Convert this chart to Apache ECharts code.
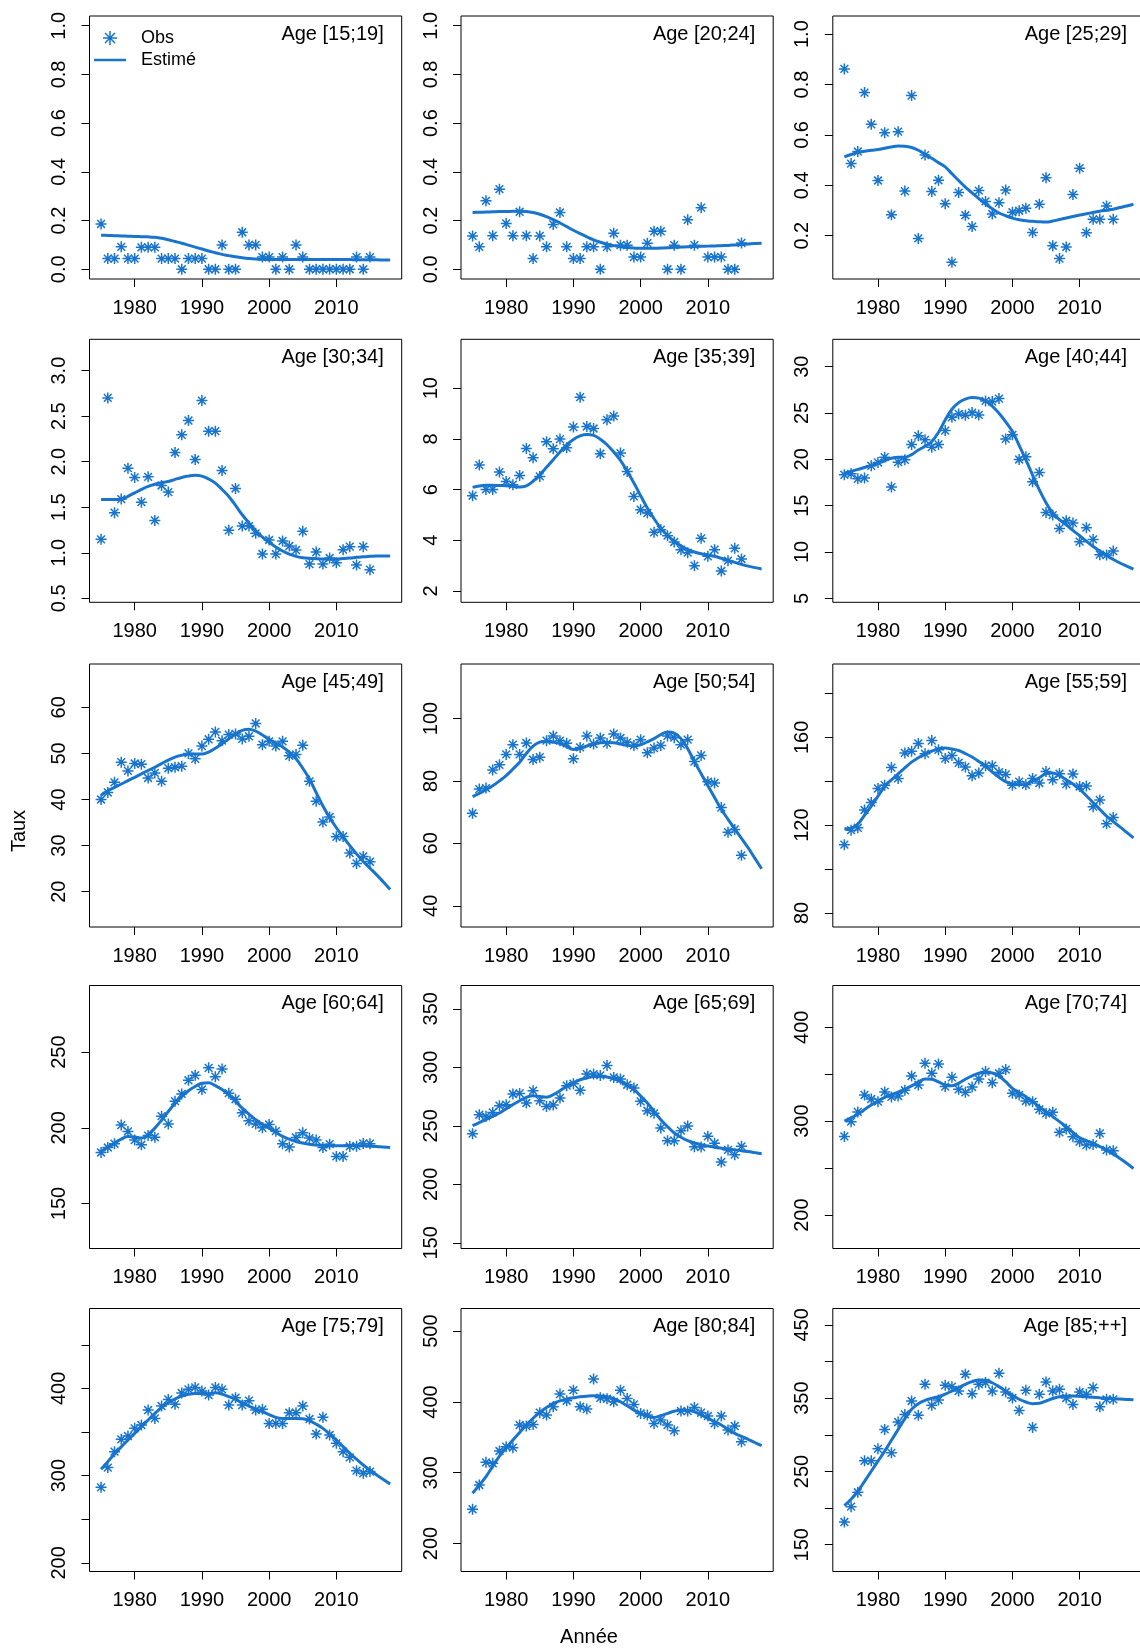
<!DOCTYPE html>
<html>
<head>
<meta charset="utf-8">
<script src="https://cdn.jsdelivr.net/npm/echarts@6/dist/echarts.min.js"></script>
<style>
html,body{margin:0;padding:0;background:#fff;}
#chart{width:1140px;height:1649px;}
</style>
</head>
<body>
<div id="chart"></div>
<script>
// ---------------- DATA ----------------
const ageLabels = ["Age [15;19]","Age [20;24]","Age [25;29]","Age [30;34]","Age [35;39]","Age [40;44]",
  "Age [45;49]","Age [50;54]","Age [55;59]","Age [60;64]","Age [65;69]","Age [70;74]",
  "Age [75;79]","Age [80;84]","Age [85;++]"];

const obsYears = [1975,1976,1977,1978,1979,1980,1981,1982,1983,1984,1985,1986,1987,1988,1989,1990,
  1991,1992,1993,1994,1995,1996,1997,1998,1999,2000,2001,2002,2003,2004,2005,2006,2007,2008,2009,2010,
  2011,2012,2013,2014,2015];
const fitYears = [1975,1976,1977,1978,1979,1980,1981,1982,1983,1984,1985,1986,1987,1988,1989,1990,
  1991,1992,1993,1994,1995,1996,1997,1998,1999,2000,2001,2002,2003,2004,2005,2006,2007,2008,2009,2010,
  2011,2012,2013,2014,2015,2016,2017,2018];
const xTicks = [1980,1990,2000,2010];

const obs_15_19 = [0.186,0.044,0.044,0.092,0.044,0.044,0.09,0.09,0.09,0.044,0.044,0.044,0,0.044,0.044,0.044,0,0,0.1,0,0,0.152,0.1,0.1,0.05,0.05,0,0.05,0,0.1,0.05,0,0,0,0,0,0,0,0.05,0,0.05];
const fit_15_19 = [0.14,0.139,0.138,0.137,0.136,0.135,0.134,0.133,0.131,0.127,0.121,0.114,0.107,0.099,0.091,0.083,0.075,0.068,0.061,0.056,0.051,0.047,0.044,0.042,0.041,0.04,0.04,0.04,0.04,0.04,0.04,0.04,0.04,0.04,0.04,0.04,0.04,0.04,0.039,0.039,0.039,0.039,0.038,0.038];

const obs_20_24 = [0.137,0.092,0.281,0.138,0.329,0.188,0.138,0.236,0.138,0.044,0.137,0.092,0.184,0.233,0.092,0.044,0.044,0.092,0.092,0,0.092,0.148,0.099,0.099,0.05,0.05,0.107,0.156,0.156,0,0.099,0,0.203,0.099,0.253,0.05,0.05,0.05,0,0,0.108];
const fit_20_24 = [0.233,0.234,0.235,0.236,0.237,0.237,0.238,0.238,0.237,0.233,0.226,0.216,0.204,0.19,0.175,0.16,0.146,0.133,0.121,0.111,0.103,0.097,0.092,0.089,0.087,0.086,0.086,0.086,0.087,0.088,0.09,0.091,0.092,0.093,0.094,0.095,0.096,0.097,0.098,0.1,0.102,0.104,0.106,0.107];

const obs_25_29 = [0.862,0.486,0.534,0.768,0.642,0.419,0.609,0.283,0.613,0.377,0.756,0.189,0.52,0.375,0.42,0.327,0.094,0.371,0.281,0.236,0.379,0.336,0.286,0.331,0.381,0.293,0.299,0.309,0.213,0.325,0.43,0.16,0.109,0.155,0.363,0.468,0.212,0.265,0.265,0.318,0.265];
const fit_25_29 = [0.513,0.522,0.53,0.535,0.539,0.542,0.547,0.552,0.556,0.555,0.55,0.539,0.523,0.507,0.49,0.473,0.446,0.419,0.393,0.37,0.347,0.326,0.307,0.29,0.279,0.27,0.263,0.259,0.257,0.255,0.254,0.258,0.264,0.27,0.276,0.282,0.287,0.292,0.297,0.301,0.305,0.312,0.318,0.325];

const obs_30_34 = [1.147,2.70,1.44,1.589,1.929,1.827,1.556,1.834,1.355,1.739,1.666,2.101,2.295,2.452,2.024,2.671,2.335,2.335,1.904,1.246,1.706,1.293,1.293,1.213,0.986,1.14,0.986,1.129,1.074,1.03,1.235,0.876,1.008,0.876,0.942,0.891,1.034,1.067,0.865,1.067,0.814];
const fit_30_34 = [1.586,1.586,1.585,1.585,1.62,1.657,1.695,1.728,1.752,1.77,1.783,1.806,1.827,1.843,1.852,1.842,1.81,1.765,1.695,1.618,1.52,1.417,1.327,1.242,1.172,1.114,1.063,1.019,0.985,0.96,0.946,0.939,0.935,0.931,0.93,0.931,0.936,0.942,0.95,0.957,0.961,0.964,0.964,0.964];

const obs_35_39 = [5.758,6.967,6.008,6.008,6.691,6.323,6.192,6.56,7.624,7.256,6.52,7.887,7.611,7.992,7.65,8.465,9.648,8.49,8.41,7.414,8.754,8.899,7.44,6.717,5.732,5.206,5.075,4.313,4.418,4.181,3.932,3.63,3.511,2.999,4.076,3.367,3.63,2.788,3.196,3.682,3.262];
const fit_35_39 = [6.087,6.14,6.17,6.17,6.16,6.15,6.13,6.1,6.15,6.33,6.59,6.88,7.18,7.48,7.77,7.98,8.12,8.17,8.14,7.99,7.77,7.48,7.15,6.72,6.26,5.76,5.27,4.85,4.48,4.19,3.96,3.78,3.63,3.54,3.47,3.42,3.37,3.29,3.21,3.13,3.05,2.98,2.92,2.87];

const obs_40_44 = [18.33,18.43,17.9,17.97,19.3,19.66,20.23,17.0,19.69,19.94,21.6,22.53,22.1,21.31,21.6,23.1,24.54,24.9,24.76,25.04,24.79,26.3,26.23,26.55,22.2,22.64,19.98,20.27,17.57,18.58,14.27,13.98,12.54,13.37,13.12,11.11,12.62,11.36,9.71,9.67,10.1];
const fit_40_44 = [18.5,18.7,18.91,19.12,19.35,19.58,19.87,20.12,20.22,20.23,20.5,21.0,21.4,21.92,22.9,24.25,25.4,26.12,26.5,26.66,26.6,26.3,25.75,24.97,24.05,23.0,21.5,19.94,18.3,16.71,15.3,14.2,13.5,12.94,12.33,11.75,11.16,10.6,10.1,9.63,9.2,8.81,8.48,8.16];

const obs_45_49 = [40.0,41.53,43.72,48.1,46.2,47.81,47.66,44.67,45.77,43.94,46.79,47.0,47.23,50.0,48.83,51.6,53.07,54.67,52.77,54.09,54.23,53.14,53.72,56.5,51.9,52.63,51.6,52.63,49.49,49.78,51.75,43.94,39.64,35.11,36.2,31.9,31.97,28.39,26.13,27.66,26.5];
const fit_45_49 = [40.95,41.9,42.65,43.36,44.1,44.82,45.55,46.3,47.0,47.8,48.55,49.2,49.6,49.85,49.85,49.85,50.3,51.1,52.1,53.2,54.16,55.0,55.25,54.82,54.0,53.07,52.25,51.4,50.3,48.83,46.8,44.45,41.5,38.6,36.1,33.87,31.9,30.0,28.2,26.57,25.1,23.65,22.1,20.5];

const obs_50_54 = [69.62,77.38,77.7,83.52,85.14,88.48,91.6,88.48,92.14,86.86,87.61,92.89,94.4,92.89,92.03,87.07,90.74,94.4,91.82,93.75,92.03,95.05,93.75,92.35,91.38,93.22,89.01,90.52,91.38,94.4,93.86,91.6,93.22,86.21,88.15,79.75,79.32,71.46,63.59,64.45,56.16];
const fit_50_54 = [75.0,76.0,77.2,78.46,80.0,81.69,83.8,86.0,88.8,91.17,92.4,92.68,92.4,91.92,91.0,90.09,90.4,91.17,91.8,92.25,92.3,92.25,91.8,91.38,91.2,91.6,92.5,93.54,94.8,95.69,95.3,93.54,90.3,86.21,82.3,78.46,74.7,70.92,67.7,64.67,61.6,58.53,55.2,51.85];

const obs_55_59 = [111.1,117.7,118.8,126.9,130.3,136.7,138.2,146.2,141.3,152.9,153.7,157.2,152.5,158.5,154.3,150.3,151.7,148.4,146.5,142.5,143.8,147.1,147.1,144.1,143.1,138.2,139.8,138.4,141.3,139.2,144.4,140.7,143.4,138.7,143.3,137.6,137.8,128.4,131.5,120.6,123.5];
const fit_55_59 = [118.3,118.6,120.5,124.5,128.7,133.2,137.6,140.6,143.3,146.1,148.7,150.7,152.3,153.7,154.8,155.1,154.7,154.0,152.6,151.0,149.0,146.8,144.2,141.8,139.8,138.7,138.4,138.7,140.0,141.6,143.5,143.8,142.5,140.7,138.7,136.4,133.4,130.3,127.2,124.1,121.6,119.2,116.7,114.2];

const obs_60_64 = [183.7,187.0,189.5,201.8,197.6,191.9,188.8,194.9,193.8,207.7,202.6,217.6,222.4,231.4,234.7,225.3,239.6,233.8,238.9,222.9,218.9,209.9,204.6,202.6,200.0,202.2,197.8,189.5,187.3,193.6,196.7,193.2,191.9,187.0,189.2,181.1,181.1,187.7,187.9,189.7,189.5];
const fit_60_64 = [184.4,187.3,189.9,192.5,194.3,194.0,193.2,195.5,199.8,205.0,210.8,216.0,220.7,224.5,227.3,229.5,229.8,227.9,225.3,221.8,217.5,213.0,209.0,205.3,202.5,199.8,197.0,194.3,192.5,191.0,190.0,189.2,188.7,188.4,188.2,188.1,188.2,188.4,188.2,188.1,187.9,187.7,187.3,187.0];

const obs_65_69 = [243.3,259.5,258.1,261.5,267.2,268.1,277.2,277.7,269.5,280.0,271.5,266.6,267.8,273.8,284.3,286.0,280.3,294.2,294.2,293.1,301.6,291.4,290.0,285.1,282.3,270.9,262.9,260.7,248.2,237.3,237.3,245.9,249.9,232.2,231.9,241.0,235.1,219.1,229.4,225.4,232.5];
const fit_65_69 = [250.1,252.8,255.3,258.1,261.0,264.6,268.1,271.4,274.3,275.8,275.0,274.5,276.6,280.0,283.7,286.8,289.4,291.0,292.2,292.3,291.7,290.2,288.0,284.7,280.9,275.5,269.5,262.3,255.3,249.3,243.9,240.2,237.3,235.4,233.9,232.7,231.7,230.9,230.2,229.5,228.8,228.0,227.1,226.2];

const obs_70_74 = [283.8,299.5,309.8,327.9,323.6,320.8,331.1,325.8,326.8,332.9,348.1,338.5,361.6,351.0,360.9,336.8,346.7,333.9,330.7,336.4,344.9,352.8,341.0,351.0,354.9,329.7,327.9,321.5,320.8,312.6,308.3,309.4,288.1,291.7,283.5,278.2,274.6,275.3,287.0,269.3,268.6];
const fit_70_74 = [300.2,303.6,307.3,312.5,317.2,321.5,325.4,328.2,330.7,334.0,337.5,341.5,344.9,344.6,341.8,338.5,337.8,340.5,344.6,348.2,351.0,352.2,351.3,348.1,342.0,335.0,330.5,326.1,320.8,315.5,310.2,304.8,299.5,294.1,288.0,282.4,279.3,276.4,273.0,269.3,265.0,260.4,255.2,249.7];

const obs_75_79 = [286.6,309.2,327.5,341.6,345.4,354.2,358.0,375.2,365.6,379.8,387.4,381.7,394.7,398.9,401.1,396.9,392.4,401.1,398.9,380.9,389.3,380.9,385.9,375.2,376.0,359.9,359.9,359.9,372.1,372.1,379.8,364.9,347.7,366.8,346.6,337.0,327.5,321.0,305.7,302.7,304.6];
const fit_75_79 = [307.3,316.0,324.8,333.0,340.8,348.5,356.1,363.8,371.4,378.0,383.6,387.8,391.2,393.2,394.3,394.3,393.8,395.0,393.5,390.6,387.4,383.6,379.8,376.5,373.3,370.0,366.8,365.6,365.5,365.5,365.3,363.0,359.0,354.2,347.8,340.8,333.2,325.6,318.8,312.2,306.4,300.8,295.6,290.5];

const obs_80_84 = [248.4,282.7,314.7,313.3,330.7,336.8,335.4,367.4,366.0,368.3,384.8,381.5,393.2,411.1,401.7,416.7,393.2,389.9,432.3,405.9,404.5,400.3,416.7,405.0,396.5,383.8,381.5,369.7,374.4,367.4,359.4,387.1,387.1,392.3,384.8,380.1,369.7,380.1,360.3,366.0,343.9];
const fit_80_84 = [271.0,282.5,294.5,309.0,323.6,335.0,346.2,357.0,367.4,377.0,385.2,392.0,397.9,401.5,404.0,405.8,407.3,408.2,408.7,408.3,407.3,404.5,400.3,394.5,388.5,383.5,380.1,378.2,380.5,383.8,386.8,388.5,388.0,386.2,381.8,376.8,372.2,367.4,361.5,355.6,351.4,347.2,342.7,338.2];

const obs_85_pp = [181.0,202.0,221.6,264.5,264.5,280.9,307.3,275.4,317.4,327.8,346.1,326.5,368.9,340.2,347.4,367.5,365.7,359.8,382.6,356.1,368.9,371.2,359.8,383.9,358.4,350.2,333.3,360.7,310.1,355.2,372.1,359.8,362.0,350.2,341.5,358.4,355.2,364.3,338.3,348.4,348.4];
const fit_85_pp = [203.4,212.0,223.0,236.5,250.3,264.0,277.7,292.5,307.3,322.0,334.7,342.5,347.0,349.8,352.0,355.5,359.8,364.5,368.9,372.5,374.8,374.4,371.0,365.7,359.5,353.8,348.5,344.7,342.5,343.0,346.1,349.5,352.0,352.8,352.9,352.6,352.0,351.3,350.6,350.0,349.3,348.8,348.3,347.9];

// axis ranges (R style, with 4% padding) and tick values
const yMin = [-0.04,-0.04,0.028,0.456,1.553,4.57,12.34,33.2,73.6,120.3,145.2,164.5,190.1,160.5,113.5];
const yMax = [1.04,1.04,1.072,3.344,11.93,32.95,69.4,117.45,193.4,294,369.9,444.4,491.6,532,472.3];
const yTicks = [
  [0,0.2,0.4,0.6,0.8,1.0],[0,0.2,0.4,0.6,0.8,1.0],[0.2,0.4,0.6,0.8,1.0],
  [0.5,1.0,1.5,2.0,2.5,3.0],[2,4,6,8,10],[5,10,15,20,25,30],
  [20,30,40,50,60],[40,60,80,100],[80,100,120,140,160,180],
  [150,200,250],[150,200,250,300,350],[200,250,300,350,400],
  [200,250,300,350,400,450],[200,300,400,500],[150,200,250,300,350,400,450]
];
const yTickLabels = [
  [0,0.2,0.4,0.6,0.8,1.0],[0,0.2,0.4,0.6,0.8,1.0],[0.2,0.4,0.6,0.8,1.0],
  [0.5,1.0,1.5,2.0,2.5,3.0],[2,4,6,8,10],[5,10,15,20,25,30],
  [20,30,40,50,60],[40,60,80,100],[80,120,160],
  [150,200,250],[150,200,250,300,350],[200,300,400],
  [200,300,400],[200,300,400,500],[150,250,350,450]
];
const yDecimals = [1,1,1,1,0,0,0,0,0,0,0,0,0,0,0];

const obsAll = [obs_15_19,obs_20_24,obs_25_29,obs_30_34,obs_35_39,obs_40_44,obs_45_49,obs_50_54,obs_55_59,obs_60_64,obs_65_69,obs_70_74,obs_75_79,obs_80_84,obs_85_pp];
const fitAll = [fit_15_19,fit_20_24,fit_25_29,fit_30_34,fit_35_39,fit_40_44,fit_45_49,fit_50_54,fit_55_59,fit_60_64,fit_65_69,fit_70_74,fit_75_79,fit_80_84,fit_85_pp];

// ---------------- LAYOUT / STYLE ----------------
const W = 1140;
const colLeft = [89.5, 461, 832.8];
const rowTop = [16, 339.3, 664, 985.5, 1308.5];
const gridW = 312.2, gridH = 263;
const BLUE = '#1874CD';
const FONT = '"Liberation Sans", Arial, Helvetica, sans-serif';
const asterisk = 'path://M0 -10 L0 10 M-10 0 L10 0 M-7.07 -7.07 L7.07 7.07 M-7.07 7.07 L7.07 -7.07';
const lineIcon = 'path://M0 0 L32 0 L32 2.5 L0 2.5 Z';

const grids = [], xAxes = [], yAxes = [], series = [], titles = [];
for (let i = 0; i < 15; i++) {
  const c = i % 3, r = Math.floor(i / 3);
  grids.push({left: colLeft[c], top: rowTop[r], width: gridW, height: gridH,
    show: true, borderColor: '#000', borderWidth: 1, backgroundColor: 'transparent',
    containLabel: false, outerBoundsMode: 'none'});
  xAxes.push({type: 'value', gridIndex: i, min: 1973.28, max: 2019.72,
    axisLine: {show: false, onZero: false},
    axisTick: {show: true, length: 8, customValues: xTicks, lineStyle: {color: '#000', width: 1}},
    axisLabel: {customValues: xTicks, margin: 19, color: '#000', fontSize: 20, fontFamily: FONT,
      formatter: (v) => String(Math.round(v))},
    splitLine: {show: false}});
  const dec = yDecimals[i];
  yAxes.push({type: 'value', gridIndex: i, min: yMin[i], max: yMax[i],
    axisLine: {show: false, onZero: false},
    axisTick: {show: true, length: 8, customValues: yTicks[i], lineStyle: {color: '#000', width: 1}},
    axisLabel: {customValues: yTickLabels[i], rotate: 90, margin: 20, color: '#000', fontSize: 20, fontFamily: FONT,
      formatter: (v) => Number(v).toFixed(dec)},
    splitLine: {show: false}});
  series.push({type: 'scatter', name: 'Obs', xAxisIndex: i, yAxisIndex: i,
    data: obsYears.map((y, k) => [y, obsAll[i][k]]),
    symbol: asterisk, symbolSize: 11,
    itemStyle: {color: BLUE, borderColor: BLUE, borderWidth: 1.5, opacity: 1},
    emphasis: {disabled: true}, silent: true, z: 3});
  series.push({type: 'line', name: 'Estimé', xAxisIndex: i, yAxisIndex: i,
    data: fitYears.map((y, k) => [y, fitAll[i][k]]),
    symbol: 'none', showSymbol: false, smooth: 0.4,
    lineStyle: {color: BLUE, width: 3}, itemStyle: {color: BLUE},
    emphasis: {disabled: true}, silent: true, z: 2});
  titles.push({text: ageLabels[i], right: W - (colLeft[c] + gridW - 18), top: rowTop[r] + 8, padding: 0,
    textStyle: {fontSize: 20, fontWeight: 'normal', color: '#000', fontFamily: FONT}});
}

const chart = echarts.init(document.getElementById('chart'), null, {renderer: 'canvas'});
chart.setOption({
  animation: false,
  backgroundColor: '#fff',
  title: titles,
  grid: grids,
  xAxis: xAxes,
  yAxis: yAxes,
  series: series,
  legend: {
    orient: 'vertical', left: 94, top: 29, itemWidth: 32, itemHeight: 14, itemGap: 4,
    padding: 0, selectedMode: false, symbolKeepAspect: true,
    data: [
      {name: 'Obs', icon: asterisk, itemStyle: {color: BLUE, borderColor: BLUE, borderWidth: 1.5}},
      {name: 'Estimé', icon: lineIcon, itemStyle: {color: BLUE, borderWidth: 0}}
    ],
    textStyle: {fontSize: 18, color: '#000', fontFamily: FONT, padding: [0, 0, 0, 10]}
  },
  graphic: [
    {type: 'text', x: 19, y: 831, rotation: Math.PI / 2,
      style: {text: 'Taux', fontSize: 20, fontFamily: FONT, fill: '#000', align: 'center', verticalAlign: 'middle'}},
    {type: 'text', x: 589, y: 1637,
      style: {text: 'Année', fontSize: 20, fontFamily: FONT, fill: '#000', align: 'center', verticalAlign: 'middle'}}
  ]
});
</script>
</body>
</html>
